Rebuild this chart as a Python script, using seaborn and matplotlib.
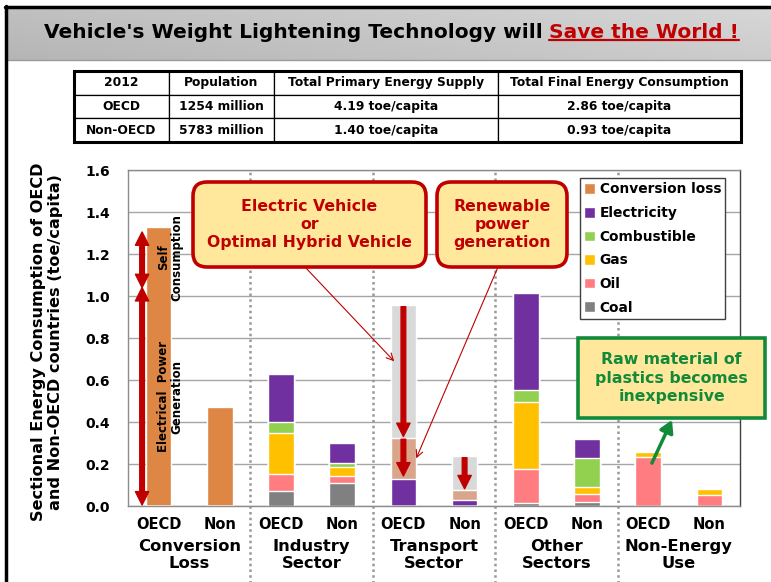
import numpy as np
import pandas as pd
import matplotlib
matplotlib.use('Agg')
import matplotlib.pyplot as plt
import seaborn as sns
from matplotlib.patches import Patch, FancyBboxPatch, FancyArrowPatch, Rectangle
from matplotlib.lines import Line2D
from matplotlib.transforms import IdentityTransform

# ---- data (toe/capita) ----
positions = list(range(10))
tick_labels = ['OECD', 'Non'] * 5
sectors = ['Conversion\nLoss', 'Industry\nSector', 'Transport\nSector', 'Other\nSectors', 'Non-Energy\nUse']

coal = [0, 0, 0.073, 0.108, 0, 0, 0.016, 0.018, 0, 0]
oil = [0, 0, 0.078, 0.033, 0, 0, 0.160, 0.041, 0.232, 0.052]
gas = [0, 0, 0.198, 0.046, 0, 0, 0.321, 0.031, 0.027, 0.027]
combustible = [0, 0, 0.051, 0.019, 0, 0, 0.057, 0.137, 0, 0]
electricity = [0, 0, 0.229, 0.093, 0.129, 0.030, 0.459, 0.091, 0, 0]
ev_loss = [0, 0, 0, 0, 0.196, 0.046, 0, 0, 0, 0]     # tan part of transport bars
ev_saved = [0, 0, 0, 0, 0.632, 0.162, 0, 0, 0, 0]    # light grey part of transport bars
conversion_loss = [1.327, 0.47, 0, 0, 0, 0, 0, 0, 0, 0]
power_gen_split = 1.04   # electrical power generation / self consumption

table_head = ['2012', 'Population', 'Total Primary Energy Supply', 'Total Final Energy Consumption']
regions = ['OECD', 'Non-OECD']
population = ['1254 million', '5783 million']
tpes = ['4.19 toe/capita', '1.40 toe/capita']
tfec = ['2.86 toe/capita', '0.93 toe/capita']

layers = [('Coal', coal, '#808080'),
          ('Oil', oil, '#FF7C80'),
          ('Gas', gas, '#FFC000'),
          ('Combustible', combustible, '#92D050'),
          ('Electricity', electricity, '#7030A0'),
          ('ev_loss', ev_loss, '#D9A68C'),
          ('ev_saved', ev_saved, '#D9D9D9'),
          ('Conversion loss', conversion_loss, '#DE8644')]
legend_order = ['Conversion loss', 'Electricity', 'Combustible', 'Gas', 'Oil', 'Coal']

RED = '#C00000'
GREEN = '#138A3A'
W, H = 771, 582

sns.set_style('white')
plt.rcParams['font.family'] = ['DejaVu Sans']
for k in ['text.color', 'axes.labelcolor', 'xtick.color', 'ytick.color']:
    plt.rcParams[k] = 'black'

fig = plt.figure(figsize=(W / 100, H / 100), dpi=100)

# background decorations (banner + frame)
bg = fig.add_axes([0, 0, 1, 1], zorder=-5)
bg.set_xlim(0, W)
bg.set_ylim(H, 0)
bg.axis('off')
grad = np.linspace(0.73, 0.82, 200)[None, :] + np.linspace(0.02, -0.02, 20)[:, None]
bg.imshow(grad, extent=(7, W, 60, 9), cmap='gray', vmin=0, vmax=1, aspect='auto')
bg.plot([7, W], [60, 60], color='#9A9A9A', lw=1)
bg.plot([6, 6], [6, H], color='black', lw=2.5)
bg.plot([5, W], [7, 7], color='black', lw=2.5)

# title
TS = 14.5
t1 = fig.text(44 / W, 1 - 32 / H, "Vehicle's Weight Lightening Technology will",
              fontsize=TS, fontweight='bold', ha='left', va='center')
fig.canvas.draw()
renderer = fig.canvas.get_renderer()
bb1 = t1.get_window_extent(renderer)
space_px = 0.318 * TS * 100 / 72
t2 = fig.text((bb1.x1 + space_px) / W, 1 - 32 / H, "Save the World !", color=RED,
              fontsize=TS, fontweight='bold', ha='left', va='center')
bb2 = t2.get_window_extent(renderer)
fig.add_artist(Line2D([bb2.x0, bb2.x1], [bb2.y0 + 1.5, bb2.y0 + 1.5], color=RED, lw=1.6,
                      transform=IdentityTransform()))

# table
tab_ax = fig.add_axes([74 / W, 1 - 142 / H, 667 / W, 71 / H])
tab_ax.axis('off')
cells = [table_head] + [[regions[i], population[i], tpes[i], tfec[i]] for i in range(2)]
widths = np.array([95, 105, 224, 243], dtype=float)
tbl = tab_ax.table(cellText=cells, colWidths=list(widths / widths.sum()), cellLoc='center',
                   bbox=[0, 0, 1, 1])
tbl.auto_set_font_size(False)
tbl.set_fontsize(8.8)
for (r, c), cell in tbl.get_celld().items():
    cell.set_edgecolor('black')
    cell.set_linewidth(0.9)
    cell.get_text().set_fontweight('bold')
tab_ax.add_patch(Rectangle((0, 0), 1, 1, transform=tab_ax.transAxes, fill=False, lw=2.2,
                           ec='black', clip_on=False))

# main chart
ax = fig.add_axes([128 / W, 76 / H, 612 / W, 336 / H])
df = pd.DataFrame({name: vals for name, vals, _ in layers}, index=positions)
cum = df.cumsum(axis=1)
for name, _, color in reversed(layers):
    sns.barplot(x=positions, y=cum[name].values, color=color, width=0.42, saturation=1,
                errorbar=None, ax=ax, zorder=2)

ax.set_xlim(-0.5, 9.5)
ax.set_ylim(0, 1.6)
ax.set_axisbelow(True)
ax.yaxis.grid(True, color='#A6A6A6', lw=1)
ax.xaxis.grid(False)
yt = np.round(np.arange(0, 1.61, 0.2), 1)
ax.set_yticks(yt, [f'{v:.1f}' for v in yt], fontsize=10, fontweight='bold')
ax.tick_params(axis='y', length=0, pad=13)
ax.set_xticks(positions, tick_labels, fontsize=10.5, fontweight='bold')
ax.set_xticks([0.5, 2.5, 4.5, 6.5, 8.5], minor=True)
ax.tick_params(axis='x', which='major', length=0, pad=8)
ax.tick_params(axis='x', which='minor', length=5, color='#A0A0A0', width=1)
for side in ['left', 'bottom', 'top']:
    ax.spines[side].set_color('#8C8C8C')
ax.spines['right'].set_color('#404040')
for s in ax.spines.values():
    s.set_linewidth(1)

for x in [1.5, 3.5, 5.5, 7.5]:
    ax.plot([x, x], [-0.23, 1], transform=ax.get_xaxis_transform(), clip_on=False,
            ls=(0, (1, 1.3)), color='#999999', lw=1.8, zorder=1.5)

for i, s in enumerate(sectors):
    ax.text(2 * i + 0.5, -0.146, s, transform=ax.get_xaxis_transform(), ha='center',
            va='center', fontsize=11.8, fontweight='bold', linespacing=1.22)

fig.text(47 / W, 1 - 342 / H,
         'Sectional Energy Consumption of OECD\nand Non-OECD countries (toe/capita)',
         rotation=90, ha='center', va='center', fontsize=11.6, fontweight='bold',
         multialignment='center', linespacing=1.1)

# legend
handles = [Patch(facecolor=c, label=n) for name in legend_order
           for n, _, c in layers if n == name]
leg = ax.legend(handles=handles, loc='upper left', bbox_to_anchor=(580 / W, 1 - 178 / H),
                bbox_transform=fig.transFigure, frameon=True, fancybox=False,
                edgecolor='#404040', framealpha=1, prop={'weight': 'bold', 'size': 9.9},
                handlelength=0.8, handleheight=0.8, handletextpad=0.3, labelspacing=0.7,
                borderpad=0.32, borderaxespad=0)
leg.get_frame().set_linewidth(1)
leg.set_zorder(6)


# thick red arrows
def fat_arrow(x, y0, y1):
    ax.add_patch(FancyArrowPatch((x, y0), (x, y1),
                                 arrowstyle='simple,head_length=0.8,head_width=0.8,tail_width=0.28',
                                 mutation_scale=12, color=RED, shrinkA=0, shrinkB=0, zorder=4))


top_cl = conversion_loss[0]
x_cl = -0.27
mid = (top_cl - 0.02 + power_gen_split) / 2
fat_arrow(x_cl, mid, top_cl - 0.022)
fat_arrow(x_cl, mid, power_gen_split)
mid = (power_gen_split + 0.005) / 2
fat_arrow(x_cl, mid, power_gen_split)
fat_arrow(x_cl, mid, 0.005)

ax.text(0.19, (top_cl + power_gen_split) / 2, 'Self\nConsumption', rotation=90, ha='center',
        va='center', fontsize=8.5, fontweight='bold', linespacing=1.0, zorder=5)
ax.text(0.19, power_gen_split / 2, 'Electrical  Power\nGeneration', rotation=90, ha='center',
        va='center', fontsize=8.5, fontweight='bold', linespacing=1.0, zorder=5)

for i in [4, 5]:
    e_top = electricity[i]
    l_top = e_top + ev_loss[i]
    s_top = l_top + ev_saved[i]
    fat_arrow(i, s_top - 0.008, l_top + 0.006)
    if i == 4:
        fat_arrow(i, l_top - 0.007, e_top + 0.014)


# callout boxes (figure pixels, y from top)
def callout(x0, y0, x1, y1, text, ec, tc, rounded):
    style = 'round,pad=0,rounding_size=14' if rounded else 'square,pad=0'
    fig.add_artist(FancyBboxPatch((x0, H - y1), x1 - x0, y1 - y0, boxstyle=style,
                                  fc='#FFE89C', ec=ec, lw=2.6, transform=IdentityTransform(),
                                  zorder=7))
    fig.text((x0 + x1) / 2 / W, 1 - (y0 + y1) / 2 / H, text, ha='center', va='center',
             color=tc, fontsize=11.3, fontweight='bold', linespacing=1.25, zorder=8)


callout(193, 182, 426, 267, 'Electric Vehicle\nor\nOptimal Hybrid Vehicle', RED, RED, True)
callout(437, 182, 567, 267, 'Renewable\npower\ngeneration', RED, RED, True)
callout(578, 338, 765, 418, 'Raw material of\nplastics becomes\ninexpensive', GREEN, GREEN, False)

thin = dict(arrowstyle='->,head_length=0.5,head_width=0.25', color=RED, lw=0.8,
            shrinkA=0, shrinkB=0)
e4 = electricity[4]
ax.annotate('', xy=(4 - 0.15, (e4 + ev_loss[4] + ev_saved[4]) * 0.72), xycoords='data',
            xytext=(305, H - 267), textcoords='figure pixels', arrowprops=thin, zorder=5)
ax.annotate('', xy=(4 + 0.21, e4 + ev_loss[4] / 2), xycoords='data',
            xytext=(498, H - 267), textcoords='figure pixels', arrowprops=thin, zorder=5)
ax.annotate('', xy=(672, H - 420), xycoords='figure pixels',
            xytext=(8 + 0.06, oil[8] * 0.88), textcoords='data',
            arrowprops=dict(arrowstyle='-|>,head_length=0.6,head_width=0.35', color=GREEN,
                            lw=2.5, mutation_scale=12, shrinkA=0, shrinkB=0), zorder=5)

fig.savefig('out.png', dpi=100)
